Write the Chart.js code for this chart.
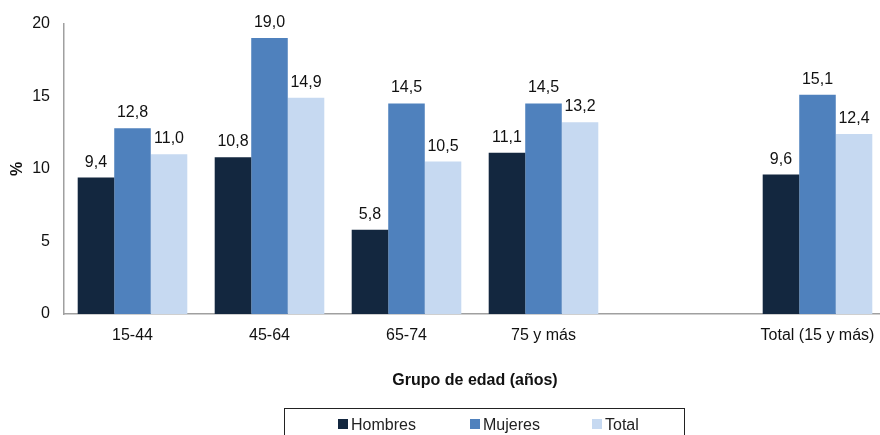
<!DOCTYPE html>
<html>
<head>
<meta charset="utf-8">
<script src="https://cdn.jsdelivr.net/npm/chart.js@4"></script>
<style>
  html, body { margin: 0; padding: 0; background: #fff; overflow: hidden; }
  #wrap { position: relative; width: 890px; height: 435px; }
  #legend {
    position: absolute; left: 284px; top: 408px; width: 401px; height: 40px;
    border: 1px solid #222; box-sizing: border-box;
    font-family: "Liberation Sans", Arial, sans-serif; font-size: 16px; color: #222;
  }
  #legend span { position: absolute; top: 6px; line-height: 19px; white-space: nowrap; }
  #legend i { display: inline-block; width: 10px; height: 10px; margin-right: 3px; vertical-align: 1px; }
</style>
</head>
<body>
<div id="wrap">
  <canvas id="myChart" width="890" height="435"></canvas>
  <div id="legend"></div>
</div>
<script>
/* globals Chart */

const categories = ["15-44", "45-64", "65-74", "75 y más", "", "Total (15 y más)"];
const hombres = [9.4, 10.8, 5.8, 11.1, null, 9.6];
const mujeres = [12.8, 19.0, 14.5, 14.5, null, 15.1];
const total = [11.0, 14.9, 10.5, 13.2, null, 12.4];
const yTicks = [0, 5, 10, 15, 20];

const seriesNames = ["Hombres", "Mujeres", "Total"];
const colors = ["#13273f", "#4f81bd", "#c6d9f1"];

const font = { family: "'Liberation Sans', Arial, sans-serif", size: 16 };

// value labels above each bar, with decimal comma
const valueLabels = {
  id: "valueLabels",
  afterDatasetsDraw(chart) {
    const ctx = chart.ctx;
    ctx.save();
    ctx.font = "16px 'Liberation Sans', Arial, sans-serif";
    ctx.fillStyle = "#111";
    ctx.textAlign = "center";
    ctx.textBaseline = "alphabetic";
    chart.data.datasets.forEach((ds, i) => {
      chart.getDatasetMeta(i).data.forEach((bar, j) => {
        const v = ds.data[j];
        if (v == null) return;
        ctx.fillText(v.toFixed(1).replace(".", ","), bar.x, bar.y - 11);
      });
    });
    ctx.restore();
  },
};

const ctx = document.getElementById("myChart").getContext("2d");

/* exported myChart */
const myChart = new Chart(ctx, {
  type: "bar",
  data: {
    labels: categories,
    datasets: [hombres, mujeres, total].map((d, i) => ({
      label: seriesNames[i],
      data: d,
      backgroundColor: colors[i],
      categoryPercentage: 0.8,
      barPercentage: 1,
    })),
  },
  options: {
    responsive: false,
    animation: false,
    layout: { padding: { top: 23, right: 4, left: 0, bottom: 0 } },
    scales: {
      x: {
        grid: { display: false, drawTicks: false },
        border: { color: "#a0a0a0", width: 1.5 },
        ticks: { color: "#111", font, padding: 12, maxRotation: 0 },
        title: {
          display: true,
          text: "Grupo de edad (años)",
          color: "#111",
          font: { ...font, weight: "bold" },
          padding: { top: 0, bottom: 45 },
        },
        afterFit: (scale) => { scale.height = 121; },
      },
      y: {
        min: 0,
        max: 20,
        afterBuildTicks: (scale) => { scale.ticks = yTicks.map((v) => ({ value: v })); },
        grid: { display: false, drawTicks: false },
        border: { color: "#a0a0a0", width: 1.5 },
        ticks: { color: "#111", font, padding: 14 },
        title: {
          display: true,
          text: "%",
          color: "#111",
          font: { ...font, weight: "bold" },
          padding: { top: 8, bottom: 0 },
        },
        afterFit: (scale) => { scale.width = 64; },
      },
    },
    plugins: {
      legend: { display: false },
      tooltip: { enabled: false },
    },
  },
  plugins: [valueLabels],
});

// legend box below the chart
const legendPos = [53, 185, 307];
const legend = document.getElementById("legend");
seriesNames.forEach((name, i) => {
  const s = document.createElement("span");
  s.style.left = legendPos[i] + "px";
  s.innerHTML = `<i style="background:${colors[i]}"></i>${name}`;
  legend.appendChild(s);
});
</script>
</body>
</html>
